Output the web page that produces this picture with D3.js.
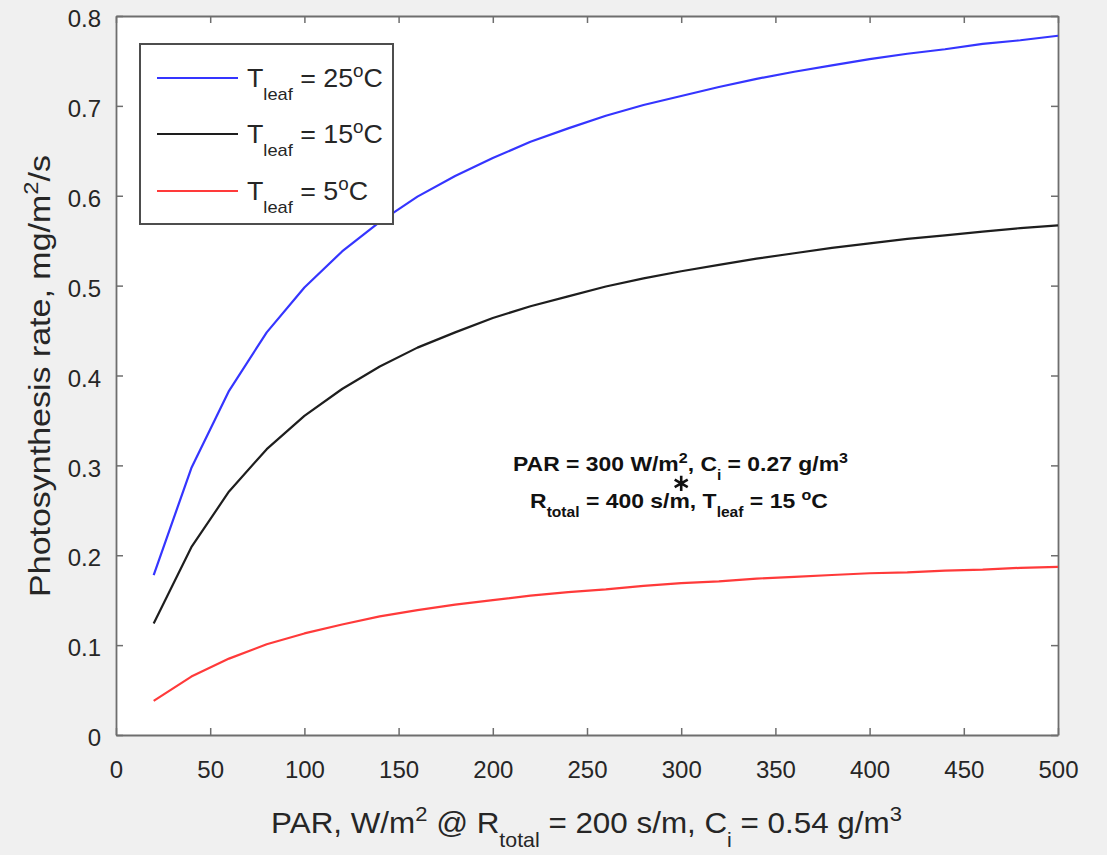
<!DOCTYPE html>
<html><head><meta charset="utf-8">
<script src="https://cdn.jsdelivr.net/npm/d3@7"></script>
<style>
html,body{margin:0;padding:0;background:#f0f0f0;}
svg{display:block;}
text{font-family:"Liberation Sans",Arial,Helvetica,sans-serif;}
</style>
</head><body>
<svg id="chart" width="1107" height="855"></svg>
<script>
// ---------- data ----------
const par = [20,40,60,80,100,120,140,160,180,200,220,240,260,280,300,320,340,360,380,400,420,440,460,480,500];
const rate25 = [0.178,0.297,0.383,0.448,0.498,0.538,0.571,0.599,0.622,0.642,0.660,0.675,0.689,0.701,0.711,0.721,0.730,0.738,0.745,0.752,0.758,0.763,0.769,0.773,0.778];
const rate15 = [0.124,0.209,0.271,0.318,0.355,0.385,0.410,0.431,0.448,0.464,0.477,0.488,0.499,0.508,0.516,0.523,0.530,0.536,0.542,0.547,0.552,0.556,0.560,0.564,0.567];
const rate5  = [0.038,0.065,0.085,0.101,0.113,0.123,0.132,0.139,0.145,0.150,0.155,0.159,0.162,0.166,0.169,0.171,0.174,0.176,0.178,0.180,0.181,0.183,0.184,0.186,0.187];
const seriesTemps = ["25","15","5"];
const xTicks = [0,50,100,150,200,250,300,350,400,450,500];
const yTicks = [0,0.1,0.2,0.3,0.4,0.5,0.6,0.7,0.8];
const yTickLabels = ["0","0.1","0.2","0.3","0.4","0.5","0.6","0.7","0.8"];
const markerPar = [300];
const markerRate = [0.28];

// ---------- layout ----------
const svg = d3.select("#chart");
const L = 116, R = 1058, T = 16, B = 735;
const x = d3.scaleLinear().domain([0,500]).range([L,R]);
const y = d3.scaleLinear().domain([0,0.8]).range([B,T]);
const axisColor = "#6e6e6e";
const colors = ["#3535ff","#1e1e1e","#ff3a3a"];
const series = [rate25, rate15, rate5];

svg.append("rect").attr("width",1107).attr("height",855).attr("fill","#f0f0f0");
svg.append("rect").attr("x",L).attr("y",T).attr("width",R-L).attr("height",B-T).attr("fill","#fff");

// rich text helper
function rich(g, parts, fs, anchor, weight, subK){
  const sk = subK || 0.45;
  const t = g.append("text").attr("font-size",fs).attr("text-anchor",anchor||"start")
    .attr("font-weight",weight||"normal").attr("fill","#262626");
  let shift = 0;
  parts.forEach(p=>{
    let target = 0, size = fs;
    if(p.s==="sub"){target = fs*sk; size = fs*0.68;}
    if(p.s==="sup"){target = -fs*0.40; size = fs*0.70;}
    t.append("tspan").attr("dy", target-shift).attr("font-size",size).text(p.t);
    shift = target;
  });
  return t;
}
function fit(g, t, tx, ty, rot, targetW){
  const w = t.node().getBBox().width;
  const s = targetW ? targetW / w : 1;
  g.attr("transform", `translate(${tx},${ty}) ${rot?`rotate(${rot})`:""} scale(${s},1)`);
  return s;
}

// axes (ticks inside, box)
function styleAxis(g){
  g.selectAll("path.domain").attr("stroke",axisColor).attr("stroke-width",1.8);
  g.selectAll(".tick line").attr("stroke",axisColor).attr("stroke-width",1.5);
  g.selectAll("text").attr("fill","#262626").attr("font-size",24)
    .attr("font-family",'"Liberation Sans",Arial,sans-serif');
}
const gx = svg.append("g").attr("transform",`translate(0,${B})`)
  .call(d3.axisBottom(x).tickValues(xTicks).tickSize(-7).tickSizeOuter(0).tickPadding(26).tickFormat(d3.format("d")));
styleAxis(gx);
const gxt = svg.append("g").attr("transform",`translate(0,${T})`)
  .call(d3.axisTop(x).tickValues(xTicks).tickSize(-7).tickSizeOuter(0).tickFormat(""));
styleAxis(gxt);
const gy = svg.append("g").attr("transform",`translate(${L},0)`)
  .call(d3.axisLeft(y).tickValues(yTicks).tickSize(-7).tickSizeOuter(0).tickPadding(15).tickFormat((d,i)=>yTickLabels[i]));
styleAxis(gy);
gy.selectAll("text").attr("y",3);
const gyr = svg.append("g").attr("transform",`translate(${R},0)`)
  .call(d3.axisRight(y).tickValues(yTicks).tickSize(-7).tickSizeOuter(0).tickFormat(""));
styleAxis(gyr);

// lines
const line = d3.line().x((d,i)=>x(par[i])).y(d=>y(d));
series.forEach((s,k)=>{
  svg.append("path").datum(s).attr("d",line).attr("fill","none")
    .attr("stroke",colors[k]).attr("stroke-width",2.2).attr("stroke-linejoin","round");
});

// marker (MATLAB-style asterisk)
const starSym = d3.symbol().type(d3.symbolAsterisk).size(160);
svg.selectAll("path.star").data(markerPar).enter().append("path").attr("class","star")
  .attr("transform",(d,i)=>`translate(${x(d)},${y(markerRate[i])})`)
  .attr("d",starSym).attr("fill","none").attr("stroke","#111").attr("stroke-width",2.6);

// annotation
const a1 = svg.append("g");
const a1t = rich(a1,[{t:"PAR = 300 W/m"},{t:"2",s:"sup"},{t:", C"},{t:"i",s:"sub"},{t:" = 0.27 g/m"},{t:"3",s:"sup"}],21,"middle","bold");
a1t.attr("fill","#111");
fit(a1,a1t,680.5,471,0,335);
const a2 = svg.append("g");
const a2t = rich(a2,[{t:"R"},{t:"total",s:"sub"},{t:" = 400 s/m, T"},{t:"leaf",s:"sub"},{t:" = 15 "},{t:"o",s:"sup"},{t:"C"}],21,"middle","bold");
a2t.attr("fill","#111");
fit(a2,a2t,679,508,0,298);

// axis labels
const xl = svg.append("g");
const xlt = rich(xl,[{t:"PAR, W/m"},{t:"2",s:"sup"},{t:" @ R"},{t:"total",s:"sub"},{t:" = 200 s/m, C"},{t:"i",s:"sub"},{t:" = 0.54 g/m"},{t:"3",s:"sup"}],30,"middle","normal",0.47);
fit(xl,xlt,586.5,833,0,631);
const yl = svg.append("g");
const ylt = rich(yl,[{t:"Photosynthesis rate, mg/m"},{t:"2",s:"sup"},{t:"/s"}],29,"middle");
fit(yl,ylt,50,376,-90,442);

// legend
const lg = svg.append("g");
lg.append("rect").attr("x",140).attr("y",44).attr("width",253).attr("height",180)
  .attr("fill","#fff").attr("stroke","#4d4d4d").attr("stroke-width",2);
const legY = [78,134,191];
let legScale = null;
seriesTemps.forEach((tmp,k)=>{
  lg.append("line").attr("x1",157).attr("x2",238).attr("y1",legY[k]).attr("y2",legY[k])
    .attr("stroke",colors[k]).attr("stroke-width",2.2);
  const g = lg.append("g");
  const t = rich(g,[{t:"T"},{t:"leaf",s:"sub"},{t:" = "+tmp},{t:"o",s:"sup"},{t:"C"}],25,"start","normal",0.5);
  if(legScale===null){
    legScale = fit(g,t,247,legY[k]+9,0,136);
  } else {
    g.attr("transform",`translate(247,${legY[k]+9}) scale(${legScale},1)`);
  }
});
</script>
</body></html>
